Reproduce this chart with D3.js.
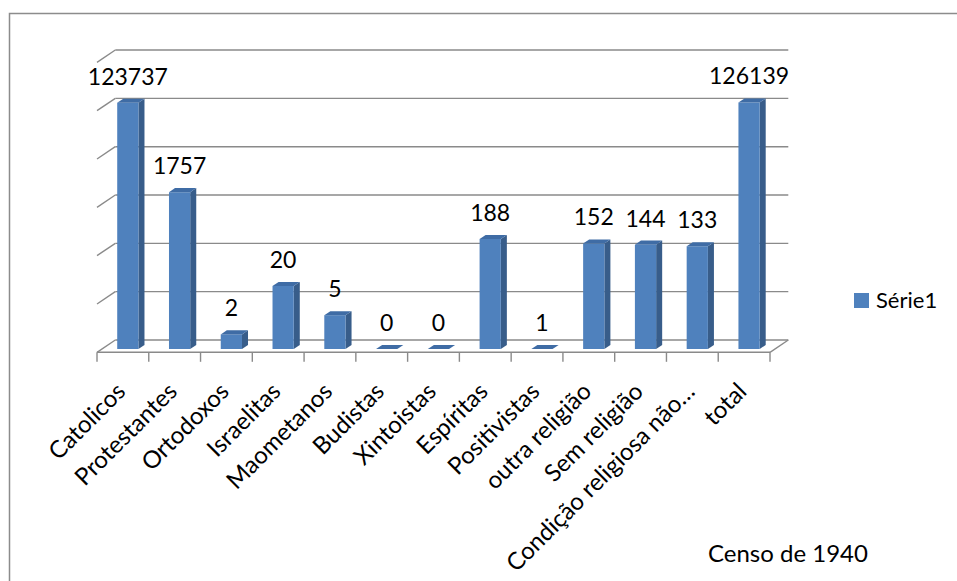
<!DOCTYPE html>
<html>
<head>
<meta charset="utf-8">
<script src="https://cdn.jsdelivr.net/npm/d3@7"></script>
<style>
  html, body { margin: 0; padding: 0; background: #fff; }
  svg { display: block; }
  text { font-family: Lato, "Open Sans", sans-serif; fill: #000; }
</style>
</head>
<body>
<svg id="chart" width="957" height="581"></svg>
<script>
// Census 1940: population by religion
const categories = ["Catolicos", "Protestantes", "Ortodoxos", "Israelitas", "Maometanos",
  "Budistas", "Xintoistas", "Espíritas", "Positivistas", "outra religião",
  "Sem religião", "Condição religiosa não…", "total"];
const values = [123737, 1757, 2, 20, 5, 0, 0, 188, 1, 152, 144, 133, 126139];
const seriesName = "Série1";
const gridDecades = [1, 10, 100, 1000, 10000, 100000, 1000000];
const caption = "Censo de 1940";

const svg = d3.select("#chart");

// Plot area (front plane) and depth projection
const x0 = 97, x1 = 770;         // front floor edge
const floorY = 352.3;            // front floor line
const DX = 18.3, DY = 12.3;      // full depth offset (back wall)

const x = d3.scaleBand().domain(categories).range([x0, x1]).paddingInner(0).paddingOuter(0);
const y = d3.scaleLog().domain([1, 1e6]).range([floorY, floorY - 6 * 48.33]);

const P = (px, py, z) => [px + z * DX, py - z * DY];
const yv = v => y(Math.max(v, 1));

// Outer frame (cropped on right and bottom)
svg.append("path")
  .attr("d", "M9.5,581 L9.5,13.5 L957,13.5")
  .attr("fill", "none").attr("stroke", "#8c8c8c").attr("stroke-width", 1.5);

const grid = svg.append("g").attr("stroke", "#8a8a8a").attr("stroke-width", 1.4).attr("fill", "none");

// Back wall gridlines and left wall diagonals
gridDecades.forEach(v => {
  const gy = y(v);
  const a = P(x0, gy, 1), b = P(x1, gy, 1), c = P(x0, gy, 0);
  grid.append("line").attr("x1", a[0]).attr("y1", a[1]).attr("x2", b[0]).attr("y2", b[1]);
  grid.append("line").attr("x1", c[0]).attr("y1", c[1]).attr("x2", a[0]).attr("y2", a[1]);
});

// Floor: front edge, right edge, tick marks
{
  const fr = P(x1, floorY, 0), br = P(x1, floorY, 1);
  grid.append("line").attr("x1", x0).attr("y1", floorY).attr("x2", x1).attr("y2", floorY);
  grid.append("line").attr("x1", fr[0]).attr("y1", fr[1]).attr("x2", br[0]).attr("y2", br[1]);
  const tickXs = categories.map(c => x(c)).concat([x1]);
  tickXs.forEach(tx => {
    grid.append("line").attr("x1", tx).attr("y1", floorY).attr("x2", tx).attr("y2", floorY + 9.5);
  });
}

// 3D columns
const zf = 0.27, zb = 0.6;
const barW = x.bandwidth() * 0.41;
const bars = svg.append("g");
categories.forEach((c, i) => {
  const v = values[i];
  const cx = x(c) + x.bandwidth() / 2;
  const l = cx - barW / 2, r = cx + barW / 2;
  const top = yv(v), bot = floorY;
  const fTL = P(l, top, zf), fTR = P(r, top, zf), fBL = P(l, bot, zf), fBR = P(r, bot, zf);
  const bTL = P(l, top, zb), bTR = P(r, top, zb), bBR = P(r, bot, zb);
  const poly = pts => "M" + pts.map(p => p.join(",")).join("L") + "Z";
  if (top < bot - 0.5) {
    bars.append("path").attr("d", poly([fTR, bTR, bBR, fBR])).attr("fill", "#385d8a");
    bars.append("path").attr("d", poly([fTL, fTR, fBR, fBL])).attr("fill", "#4f81bd");
  }
  bars.append("path").attr("d", poly([fTL, fTR, bTR, bTL])).attr("fill", "#3f6ca5");

  // value label
  bars.append("text")
    .attr("x", (fTL[0] + fTR[0]) / 2)
    .attr("y", bTL[1] - 14)
    .attr("text-anchor", "middle")
    .attr("font-size", 23)
    .text(d3.format("d")(v));
});

// Category labels, rotated
const labels = svg.append("g");
categories.forEach(c => {
  const cx = x(c) + x.bandwidth() / 2 + 4;
  const cy = 393;
  labels.append("text")
    .attr("transform", `translate(${cx},${cy}) rotate(-45)`)
    .attr("text-anchor", "end")
    .attr("font-size", 24)
    .text(c);
});

// Legend
const lg = svg.append("g").attr("transform", "translate(854,293)");
lg.append("rect").attr("width", 15).attr("height", 15).attr("fill", "#4f81bd");
lg.append("text").attr("x", 22).attr("y", 15).attr("font-size", 22).text(seriesName);

// Caption
svg.append("text").attr("x", 708).attr("y", 562).attr("font-size", 24).text(caption);
</script>
</body>
</html>
